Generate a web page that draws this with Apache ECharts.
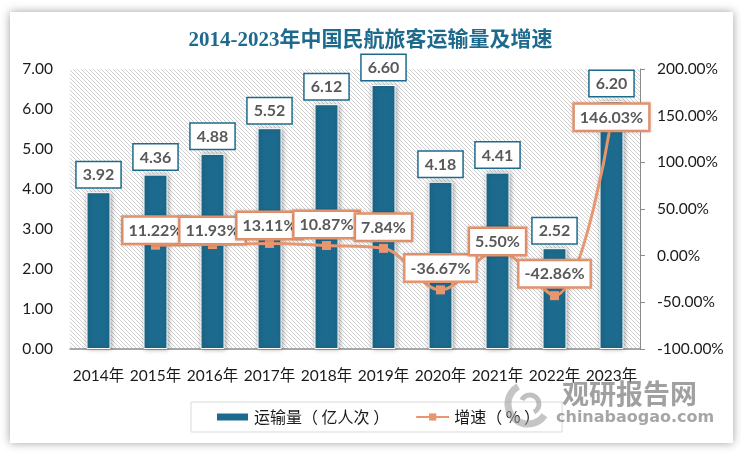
<!DOCTYPE html>
<html>
<head>
<meta charset="utf-8">
<script src="https://cdn.jsdelivr.net/npm/echarts@6/dist/echarts.min.js"></script>
<style>
html,body{margin:0;padding:0;background:#fff;width:741px;height:455px;overflow:hidden;}
#card{position:absolute;left:10px;top:12px;width:723px;height:431px;background:#fff;box-shadow:0 0 9px rgba(0,0,0,0.38);}
#chart{position:absolute;left:0;top:0;width:741px;height:455px;}
</style>
</head>
<body>
<div id="card"></div>
<div id="chart"></div>
<script>
// ---- data ----
const years = ['2014年','2015年','2016年','2017年','2018年','2019年','2020年','2021年','2022年','2023年'];
const volume = [3.92, 4.36, 4.88, 5.52, 6.12, 6.60, 4.18, 4.41, 2.52, 6.20];
const growth = [null, 11.22, 11.93, 13.11, 10.87, 7.84, -36.67, 5.50, -42.86, 146.03];
const seriesNames = ['运输量（ 亿人次 ）', '增速（ % ）'];
const titleText = '2014-2023年中国民航旅客运输量及增速';

// ---- label placement tweaks (style, not data) ----
const growthLabelDy = [0, 2, 3, -1, -4, -4, -5, 8, -5, 0];

// hatched background pattern
const pc = document.createElement('canvas');
pc.width = 4; pc.height = 4;
const pctx = pc.getContext('2d');
const img = pctx.createImageData(4, 4);
for (let y = 0; y < 4; y++) for (let x = 0; x < 4; x++) {
  const on = ((x - y) % 4 + 4) % 4 === 0;
  const v = on ? 208 : 255;
  const k = (y * 4 + x) * 4;
  img.data[k] = v; img.data[k+1] = v; img.data[k+2] = v; img.data[k+3] = 255;
}
pctx.putImageData(img, 0, 0);

const BAR = '#1c6b8e';
const LINE = '#e8966f';
const LABEL_TXT = '#595959';
const NUMFONT = "Lato, 'Noto Sans CJK SC', sans-serif";

const chart = echarts.init(document.getElementById('chart'), null, {renderer: 'canvas'});

const lineData = growth.map((v, i) => {
  if (v === null) return '-';
  const item = {value: v, label: {offset: [0, growthLabelDy[i]]}};
  if (i === growth.length - 1) item.label = {position: 'inside', offset: [0, -2]};
  return item;
});

chart.setOption({
  backgroundColor: 'transparent',
  animation: false,
  title: {
    text: titleText,
    left: 'center',
    top: 25,
    textStyle: {
      fontFamily: "'Liberation Serif', 'Noto Sans CJK SC', serif",
      fontSize: 21,
      fontWeight: 'bold',
      color: '#1e6a8d'
    }
  },
  grid: {
    left: 70, right: 101, top: 69, bottom: 106,
    show: true,
    borderWidth: 0,
    backgroundColor: {image: pc, repeat: 'repeat'}
  },
  legend: {
    left: 191, top: 402,
    padding: [7, 22, 7, 24],
    borderColor: '#d9d9d9',
    borderWidth: 1,
    itemWidth: 33,
    itemHeight: 9,
    itemGap: 26,
    textStyle: {fontSize: 16, color: '#1a1a1a', fontFamily: "'Noto Sans CJK SC', sans-serif"},
    data: [
      {name: seriesNames[0], icon: 'rect'},
      {name: seriesNames[1]}
    ]
  },
  xAxis: {
    type: 'category',
    data: years,
    axisLine: {show: true, lineStyle: {color: '#8c8c8c', width: 1.5}},
    axisTick: {show: false},
    axisLabel: {fontSize: 15.5, color: '#1a1a1a', margin: 19, fontFamily: NUMFONT, interval: 0}
  },
  yAxis: [
    {
      type: 'value', min: 0, max: 7, interval: 1,
      axisLine: {show: false}, axisTick: {show: false}, splitLine: {show: false},
      axisLabel: {fontSize: 15.5, color: '#1a1a1a', margin: 17, fontFamily: NUMFONT,
        formatter: v => v.toFixed(2)}
    },
    {
      type: 'value', min: -100, max: 200, interval: 50,
      position: 'right',
      axisLine: {show: true, lineStyle: {color: '#8c8c8c', width: 1}},
      axisTick: {show: true, length: 5, lineStyle: {color: '#8c8c8c'}},
      splitLine: {show: false},
      axisLabel: {fontSize: 15.5, color: '#1a1a1a', margin: 17, fontFamily: NUMFONT,
        formatter: v => v.toFixed(2) + '%'}
    }
  ],
  series: [
    {
      name: seriesNames[0],
      type: 'bar',
      data: volume,
      barWidth: 24,
      itemStyle: {
        color: BAR, borderColor: '#ffffff', borderWidth: 1,
        shadowColor: 'rgba(0,0,0,0.35)', shadowBlur: 5, shadowOffsetX: 1
      },
      label: {
        show: true, position: 'top', distance: 5,
        formatter: p => p.value.toFixed(2),
        fontFamily: NUMFONT, fontSize: 16, fontWeight: 'bold', color: LABEL_TXT,
        backgroundColor: '#fff', borderColor: BAR, borderWidth: 1.5,
        padding: [5, 6, 4, 6]
      }
    },
    {
      name: seriesNames[1],
      type: 'line',
      yAxisIndex: 1,
      data: lineData,
      smooth: 0.35,
      symbol: 'rect',
      symbolSize: 9,
      showAllSymbol: true,
      lineStyle: {color: LINE, width: 3},
      itemStyle: {color: LINE},
      label: {
        show: true, position: 'top', distance: 0,
        formatter: p => Number(p.value).toFixed(2) + '%',
        fontFamily: NUMFONT, fontSize: 16, fontWeight: 'bold', color: LABEL_TXT,
        backgroundColor: '#fff', borderColor: LINE, borderWidth: 2.5,
        padding: [5, 5, 4, 5],
        shadowColor: 'rgba(0,0,0,0.2)', shadowBlur: 3
      }
    }
  ],
  graphic: [
    {type: 'arc', shape: {cx: 528, cy: 404, r: 20, startAngle: 0.6, endAngle: 4.2}, style: {stroke: 'rgba(150,150,150,0.55)', lineWidth: 7, fill: null}, z: 100},
    {type: 'arc', shape: {cx: 530, cy: 404, r: 9, startAngle: 3.6, endAngle: 7.4}, style: {stroke: 'rgba(140,140,140,0.55)', lineWidth: 5, fill: null}, z: 100},
    {type: 'text', left: 562, top: 380, style: {text: '观研报告网', fontSize: 27, fontWeight: 'bold', fontFamily: "'Noto Sans CJK SC', sans-serif", fill: 'rgba(128,128,128,0.75)'}, z: 100},
    {type: 'text', left: 556, top: 410, style: {text: 'chinabaogao.com', fontSize: 16, fontWeight: 'bold', fontFamily: "'DejaVu Sans', sans-serif", fill: 'rgba(128,128,128,0.7)'}, z: 100}
  ]
});
</script>
</body>
</html>
